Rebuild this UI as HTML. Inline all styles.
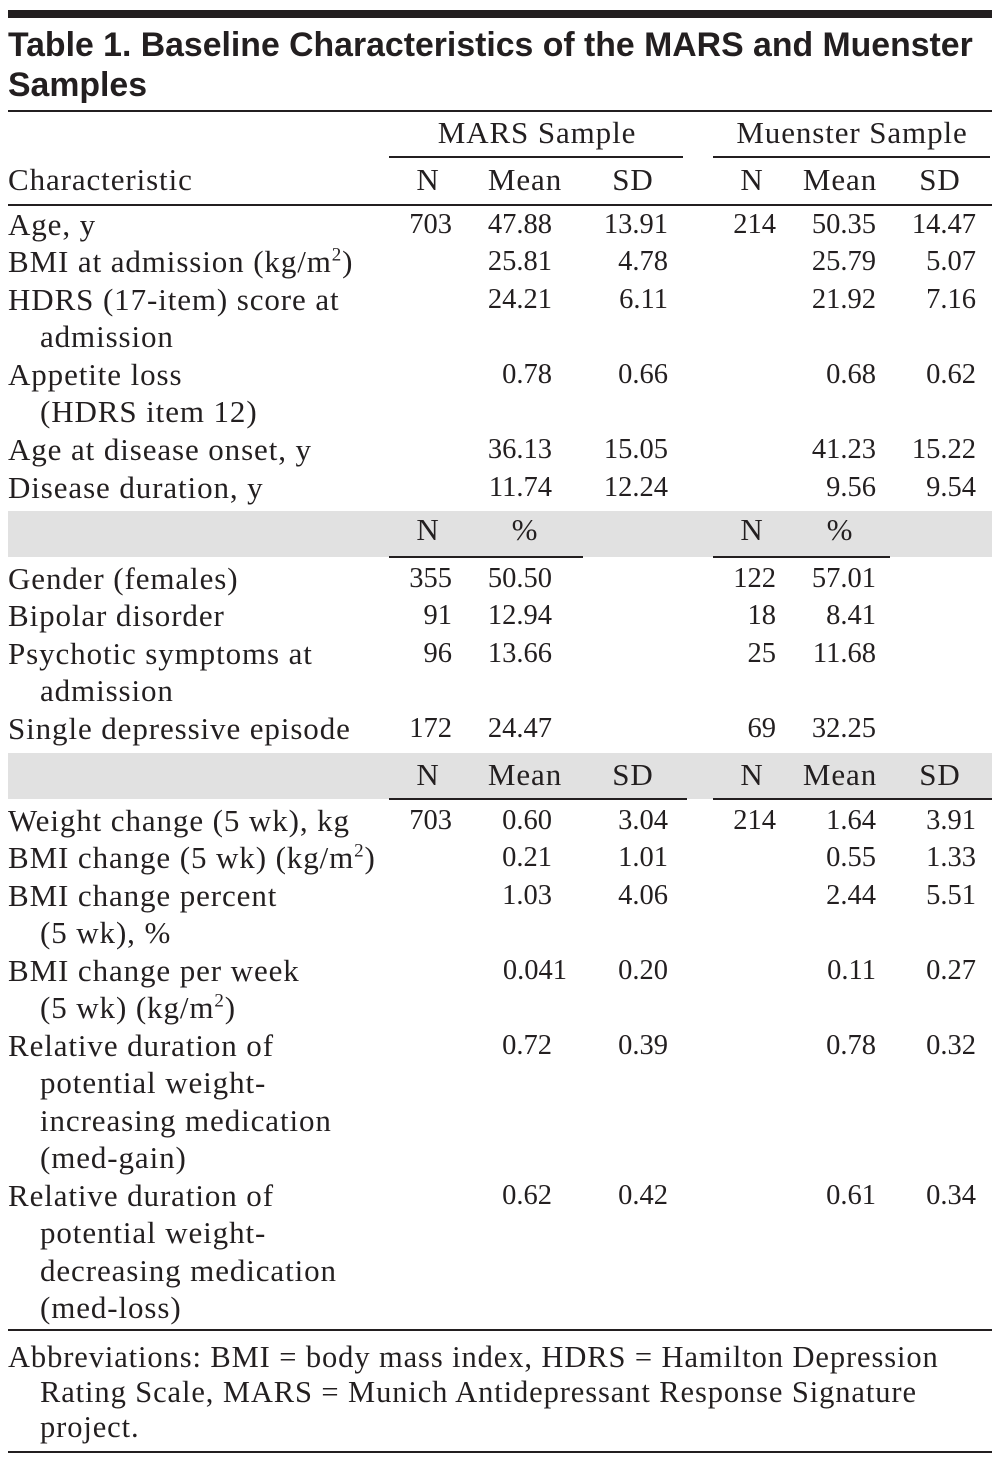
<!DOCTYPE html>
<html><head><meta charset="utf-8">
<style>
body{margin:0;background:#fff;width:1002px;height:1467px;position:relative;overflow:hidden;color:#231f20}
.t{position:absolute;font-family:"Liberation Serif",serif;font-size:28.5px;line-height:34px;white-space:nowrap}
.lab{font-size:31px;letter-spacing:0.9px}
.r{text-align:right}
.ln{position:absolute;background:#231f20}
.band{position:absolute;left:8px;width:984px;background:#e1e1e1}
.ind{padding-left:32px}
h1{position:absolute;left:8px;top:25px;margin:0;font-family:"Liberation Sans",sans-serif;font-weight:bold;font-size:33.8px;line-height:40px}
</style></head><body>
<div class="ln" style="left:8px;top:10px;width:984px;height:8px"></div>
<h1>Table 1. Baseline Characteristics of the MARS and Muenster<br>Samples</h1>
<div class="ln" style="left:8px;top:110px;width:984px;height:2px"></div>
<div class="band" style="top:511px;height:46px"></div>
<div class="band" style="top:753px;height:46px"></div>
<div id="tbl"></div>
<div class="ln" style="left:389px;top:156px;width:294px;height:2px"></div>
<div class="ln" style="left:713px;top:156px;width:277px;height:2px"></div>
<div class="ln" style="left:8px;top:204px;width:984px;height:2px"></div>
<div class="ln" style="left:389px;top:556px;width:194px;height:2px"></div>
<div class="ln" style="left:713px;top:556px;width:177px;height:2px"></div>
<div class="ln" style="left:389px;top:798px;width:298px;height:2px"></div>
<div class="ln" style="left:713px;top:798px;width:279px;height:2px"></div>
<div class="ln" style="left:8px;top:1329px;width:984px;height:2px"></div>
<div class="t lab" style="left:8px;top:1340px;line-height:35px;font-size:30.5px;letter-spacing:0.9px">Abbreviations: BMI = body mass index, HDRS = Hamilton Depression<br><span class="ind">Rating Scale, MARS = Munich Antidepressant Response Signature</span><br><span class="ind">project.</span></div>
<div class="ln" style="left:8px;top:1451px;width:984px;height:2px"></div>
<script>
const SUP="<sup style='font-size:19px;line-height:0'>2</sup>";
const rowLabels=[
[181,"Characteristic",0],
[226,"Age, y",0],[263,"BMI at admission (kg/m"+SUP+")",0],
[301,"HDRS (17-item) score at",0],[338,"admission",1],
[376,"Appetite loss",0],[413,"(HDRS item 12)",1],
[451,"Age at disease onset, y",0],[489,"Disease duration, y",0],
[580,"Gender (females)",0],[617,"Bipolar disorder",0],[655,"Psychotic symptoms at",0],[692,"admission",1],[730,"Single depressive episode",0],
[822,"Weight change (5 wk), kg",0],[859,"BMI change (5 wk) (kg/m"+SUP+")",0],
[897,"BMI change percent",0],[934,"(5 wk), %",1],
[972,"BMI change per week",0],[1009,"(5 wk) (kg/m"+SUP+")",1],
[1047,"Relative duration of",0],[1084,"potential weight-",1],[1122,"increasing medication",1],[1159,"(med-gain)",1],
[1197,"Relative duration of",0],[1234,"potential weight-",1],[1272,"decreasing medication",1],[1309,"(med-loss)",1]];
const colRight=[452,552,668,776,876,976];
const headerCenters=[428,525,633,752,840,940];
const cells=[
[181,["N","Mean","SD","N","Mean","SD"]],
[226,["703","47.88","13.91","214","50.35","14.47"]],
[263,["","25.81","4.78","","25.79","5.07"]],
[301,["","24.21","6.11","","21.92","7.16"]],
[376,["","0.78","0.66","","0.68","0.62"]],
[451,["","36.13","15.05","","41.23","15.22"]],
[489,["","11.74","12.24","","9.56","9.54"]],
[531,["N","%","","N","%",""]],
[580,["355","50.50","","122","57.01",""]],
[617,["91","12.94","","18","8.41",""]],
[655,["96","13.66","","25","11.68",""]],
[730,["172","24.47","","69","32.25",""]],
[776,["N","Mean","SD","N","Mean","SD"]],
[822,["703","0.60","3.04","214","1.64","3.91"]],
[859,["","0.21","1.01","","0.55","1.33"]],
[897,["","1.03","4.06","","2.44","5.51"]],
[972,["","0.041","0.20","","0.11","0.27"]],
[1047,["","0.72","0.39","","0.78","0.32"]],
[1197,["","0.62","0.42","","0.61","0.34"]]];
const tbl=document.getElementById('tbl');
function add(html,x,y,mode,cls,name){
  const d=document.createElement('div');
  d.className='t '+cls;
  d.innerHTML=html;
  d.style.top=(y-18)+'px';
  if(mode==='c'){d.style.left=(x-150)+'px';d.style.width='300px';d.style.textAlign='center';}
  else if(mode==='r'){d.style.left=(x-200)+'px';d.style.width='200px';d.style.textAlign='right';}
  else d.style.left=x+'px';
  
  
  tbl.appendChild(d);
}
rowLabels.forEach(r=>{add(r[1],r[2]?40:8,r[0],'l','lab','row-label');});
add("MARS Sample",537,134,'c','lab','mars-sample-header');
add("Muenster Sample",852,134,'c','lab','muenster-sample-header');
cells.forEach(r=>{
  const hdr=(r[1][0]==="N"||r[1][1]==="%");
  r[1].forEach((v,i)=>{
    if(!v)return;
    let x=colRight[i];
    if(v==="0.041")x+=15;
    if(hdr) add(v,headerCenters[i],r[0],'c','lab','column-header');
    else add(v,x,r[0],'r','','cell-value');
  });
});
</script>
</body></html>
